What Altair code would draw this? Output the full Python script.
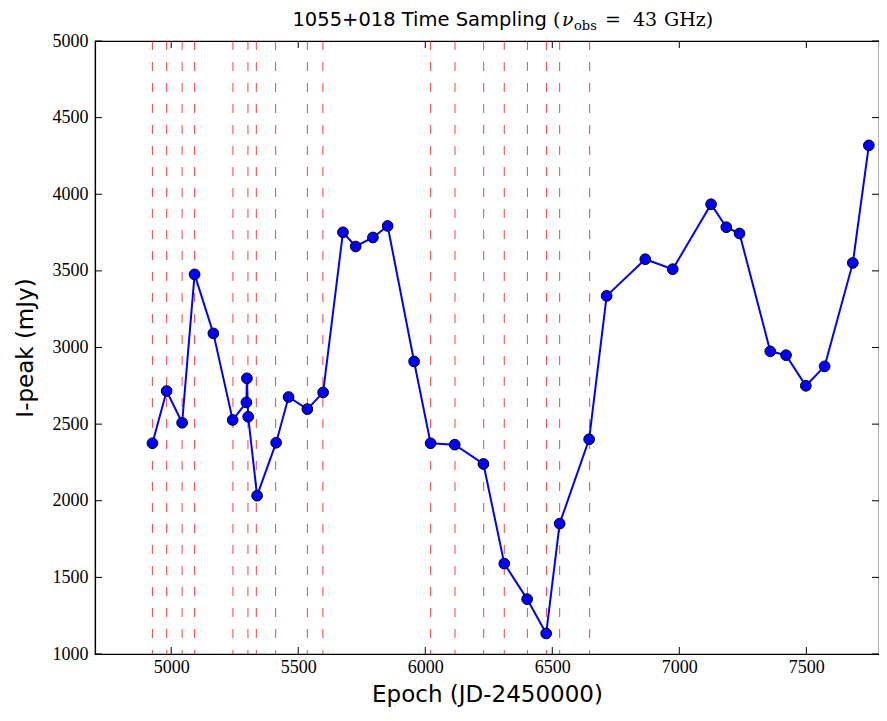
import altair as alt
import pandas as pd

# ---- data ----
epochs = [4926, 4982, 5043, 5092, 5166, 5242, 5296, 5298, 5303, 5338,
          5413, 5462, 5536, 5598, 5676, 5726, 5794, 5852, 5956, 6021,
          6116, 6229, 6311, 6401, 6476, 6529, 6645, 6714, 6866, 6974,
          7125, 7185, 7237, 7358, 7420, 7498, 7572, 7683, 7746]
ipeak = [2375, 2716, 2509, 3477, 3092, 2527, 2642, 2799, 2548, 2033,
         2379, 2677, 2598, 2707, 3752, 3659, 3718, 3793, 2909, 2375,
         2366, 2240, 1590, 1358, 1134, 1851, 2401, 3337, 3576, 3511,
         3935, 3785, 3744, 2975, 2950, 2750, 2877, 3552, 4319]
vlines = [4926, 4982, 5043, 5092, 5243, 5302, 5335, 5411, 5536, 5597,
          6021, 6117, 6230, 6311, 6402, 6477, 6529, 6647]
x_ticks = [5000, 5500, 6000, 6500, 7000, 7500]
y_ticks = [1000, 1500, 2000, 2500, 3000, 3500, 4000, 4500, 5000]

W, H = 784, 613
TL = 7  # inward tick length

df = pd.DataFrame({"idx": list(range(len(epochs))), "epoch": epochs, "ipeak": ipeak})
dv = pd.DataFrame({"epoch": vlines})
dxt = pd.DataFrame({"epoch": x_ticks})
dyt = pd.DataFrame({"ipeak": y_ticks})
one = pd.DataFrame({"a": [0]})

xs = alt.Scale(domain=[4700, 7786], nice=False, zero=False)
ys = alt.Scale(domain=[1000, 5000], nice=False, zero=False)

xaxis = alt.Axis(values=x_ticks, title="Epoch (JD-2450000)", format="d",
                 labelPadding=4, titleBaseline="alphabetic", titleY=47)
yaxis = alt.Axis(values=y_ticks, title="I-peak (mJy)", format="d",
                 labelPadding=7, titleBaseline="alphabetic", titleX=-63,
                 titleY=H / 2)

X = alt.X("epoch:Q", scale=xs, axis=xaxis)
Y = alt.Y("ipeak:Q", scale=ys, axis=yaxis)

vrule = alt.Chart(dv).mark_rule(color="red", strokeDash=[9, 12], strokeWidth=1,
                                opacity=0.75).encode(x=X)

line = alt.Chart(df).mark_line(color="#0000ff", strokeWidth=2).encode(
    x=X, y=Y, order=alt.Order("idx:Q"))

pts = alt.Chart(df).mark_point(filled=True, shape="circle", size=115, color="#0000ff",
                               stroke="black", strokeWidth=1, opacity=1).encode(x=X, y=Y)

tick_b = alt.Chart(dxt).mark_rule(color="black", strokeWidth=1).encode(
    x=X, y=alt.value(H), y2=alt.value(H - TL))
tick_t = alt.Chart(dxt).mark_rule(color="black", strokeWidth=1).encode(
    x=X, y=alt.value(0), y2=alt.value(TL))
tick_l = alt.Chart(dyt).mark_rule(color="black", strokeWidth=1).encode(
    y=Y, x=alt.value(0), x2=alt.value(TL))
tick_r = alt.Chart(dyt).mark_rule(color="black", strokeWidth=1).encode(
    y=Y, x=alt.value(W), x2=alt.value(W - TL))

def txt(s, x, y, font, size, style="normal", align="left"):
    return alt.Chart(one).mark_text(text=s, font=font, fontSize=size, fontStyle=style,
                                    align=align, baseline="alphabetic",
                                    color="black").encode(x=alt.value(x), y=alt.value(y))

TB = -15
t1 = txt("1055+018 Time Sampling", 452, TB, "DejaVu Sans", 19.5, align="right")
t2 = txt("(", 458, TB, "DejaVu Serif", 19)
t3 = txt("ν", 467, TB, "DejaVu Serif", 19, style="italic")
t4 = txt("obs", 479, TB + 4, "DejaVu Serif", 13)
t5 = txt("=", 510, TB, "DejaVu Serif", 19)
t6 = txt("43", 538, TB, "DejaVu Serif", 19)
t7 = txt("GHz)", 569, TB, "DejaVu Serif", 19)

chart = alt.layer(vrule, line, pts, tick_b, tick_t, tick_l, tick_r,
                  t1, t2, t3, t4, t5, t6, t7).properties(
    width=W, height=H,
    autosize=alt.AutoSizeParams(type="none"),
    padding={"left": 87, "top": 33, "right": 0, "bottom": 59},
    background="white",
).configure_view(stroke="black", strokeWidth=1.2).configure_axis(
    grid=False, ticks=False, domainColor="black", domainWidth=1.2,
    labelFont="Liberation Serif", labelFontSize=18, labelColor="black",
    labelFlush=False, labelOverlap=False,
    titleFont="DejaVu Sans", titleFontSize=23, titleFontWeight="normal",
    titleColor="black")

chart.save("out.html", embed_options={"renderer": "svg", "actions": False})
